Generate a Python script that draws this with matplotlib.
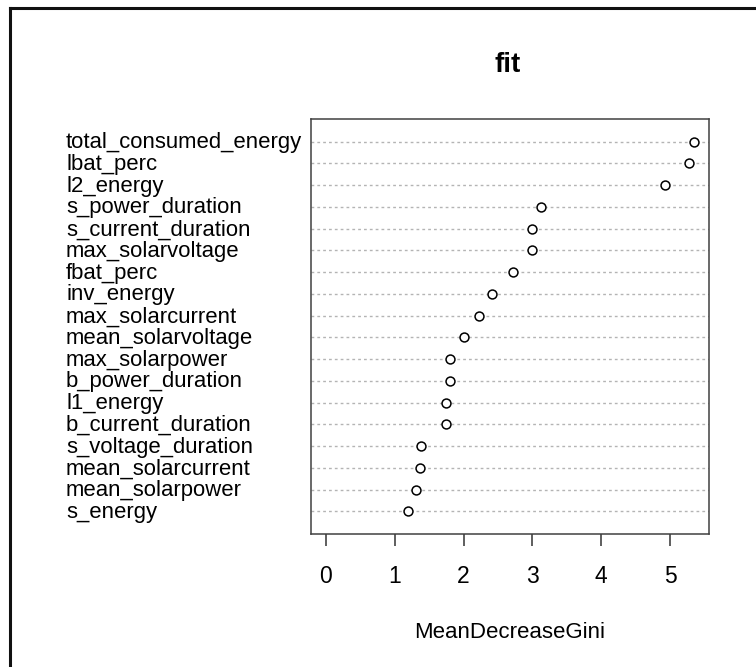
import matplotlib
matplotlib.use("Agg")
import matplotlib.pyplot as plt
from matplotlib.lines import Line2D
from matplotlib.transforms import blended_transform_factory

# Variable importance from a random forest, ordered from most to least important
variables = [
    "total_consumed_energy", "lbat_perc", "l2_energy", "s_power_duration",
    "s_current_duration", "max_solarvoltage", "fbat_perc", "inv_energy",
    "max_solarcurrent", "mean_solarvoltage", "max_solarpower",
    "b_power_duration", "l1_energy", "b_current_duration",
    "s_voltage_duration", "mean_solarcurrent", "mean_solarpower", "s_energy",
]
mean_decrease_gini = [
    5.35, 5.27, 4.93, 3.12, 3.00, 3.00, 2.72, 2.41, 2.23, 2.00,
    1.80, 1.80, 1.74, 1.74, 1.39, 1.37, 1.31, 1.20,
]
x_ticks = [0, 1, 2, 3, 4, 5]
title = "fit"
x_label = "MeanDecreaseGini"

plt.rcParams["font.family"] = ["Liberation Sans", "DejaVu Sans"]

W, H = 756, 667
fig = plt.figure(figsize=(W / 100, H / 100), dpi=100)
ax = fig.add_axes([311 / W, 1 - 534 / H, (709 - 311) / W, (534 - 119) / H])

n = len(variables)
ypos = list(range(n, 0, -1))

# dotted guide lines across the full width
for y in ypos:
    ax.axhline(y, color="#b4b4b4", lw=1.0, ls=(0, (2, 2.2)), zorder=1)

ax.plot(mean_decrease_gini, ypos, ls="none", marker="o", ms=6.4,
        mfc="white", mec="black", mew=1.1, zorder=3)

xmax = max(mean_decrease_gini)
pad = 0.04 * xmax
ax.set_xlim(-pad, xmax + pad)
ax.set_ylim(1 - 1.04, n + 1.04)

ax.set_yticks([])
ax.set_xticks(x_ticks)
ax.set_xticklabels([str(t) for t in x_ticks], fontsize=16.5)
ax.tick_params(axis="x", length=8.5, width=1.1, color="#333333",
               pad=14, labelcolor="black")
for s in ax.spines.values():
    s.set_color("#404040")
    s.set_linewidth(1.1)

ax.set_xlabel(x_label, fontsize=16, labelpad=24)

# variable names, left aligned in the margin
trans = blended_transform_factory(fig.transFigure, ax.transData)
for name, y in zip(variables, ypos):
    ax.text(66 / W, y - 0.05, name, transform=trans, ha="left", va="center",
            fontsize=15.9, color="black")

fig.text(508 / W, 1 - 65 / H, title, ha="center", va="center",
         fontsize=20, fontweight="bold")

# frame lines along the top and left edges
fig.add_artist(Line2D([9.5 / W, 1.0], [1 - 7.5 / H, 1 - 7.5 / H],
                      transform=fig.transFigure, color="#111111", lw=2.2))
fig.add_artist(Line2D([9.5 / W, 9.5 / W], [0.0, 1 - 7.5 / H],
                      transform=fig.transFigure, color="#111111", lw=2.2))

fig.savefig("out.png", dpi=100, facecolor="white")
